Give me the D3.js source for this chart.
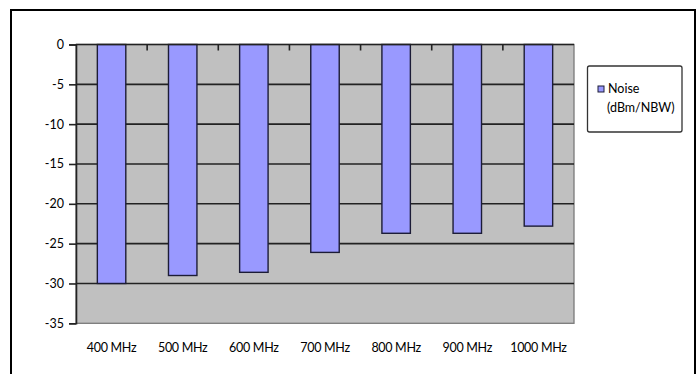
<!DOCTYPE html>
<html>
<head>
<meta charset="utf-8">
<script src="https://cdn.jsdelivr.net/npm/d3@7/dist/d3.min.js"></script>
<style>
  html, body { margin: 0; padding: 0; background: #fff; }
  svg { display: block; }
  text { font-family: Lato, "Liberation Sans", sans-serif; fill: #000; }
</style>
</head>
<body>
<svg id="chart" width="697" height="374"></svg>
<script>
// Noise level per frequency band
const categories = ["400 MHz", "500 MHz", "600 MHz", "700 MHz", "800 MHz", "900 MHz", "1000 MHz"];
const noise = [-30, -29, -28.6, -26.1, -23.7, -23.7, -22.8];
const yTicks = [0, -5, -10, -15, -20, -25, -30, -35];
const seriesName = ["Noise", "(dBm/NBW)"];

const svg = d3.select("#chart");
const plot = { left: 76, right: 574, top: 44.5, bottom: 323.3 };

// Outer frame (open at the bottom edge of the view)
svg.append("rect")
  .attr("x", 11).attr("y", 10)
  .attr("width", 684).attr("height", 400)
  .attr("fill", "#fff").attr("stroke", "#000").attr("stroke-width", 2);

const x = d3.scaleBand().domain(categories)
  .range([plot.left, plot.right]).paddingInner(0.6).paddingOuter(0.3);
const xCat = d3.scaleBand().domain(categories).range([plot.left, plot.right]).padding(0);
const y = d3.scaleLinear().domain([-35, 0]).range([plot.bottom, plot.top]);

// Plot background
svg.append("rect")
  .attr("x", plot.left).attr("y", plot.top)
  .attr("width", plot.right - plot.left).attr("height", plot.bottom - plot.top)
  .attr("fill", "#c0c0c0").attr("stroke", "#7a7a7a").attr("stroke-width", 1.3);

// Horizontal gridlines
svg.append("g").selectAll("line")
  .data(yTicks.filter(t => t !== 0 && t !== -35))
  .join("line")
  .attr("x1", plot.left).attr("x2", plot.right)
  .attr("y1", d => y(d)).attr("y2", d => y(d))
  .attr("stroke", "#222").attr("stroke-width", 1.6);

// Bars hanging from zero
svg.append("g").selectAll("rect")
  .data(categories.map((c, i) => ({ c, v: noise[i] })))
  .join("rect")
  .attr("x", d => x(d.c))
  .attr("y", y(0))
  .attr("width", x.bandwidth())
  .attr("height", d => y(d.v) - y(0))
  .attr("fill", "#9999ff").attr("stroke", "#1c1c36").attr("stroke-width", 1.4);

// Value axis
const yAxis = svg.append("g")
  .attr("transform", `translate(${plot.left},0)`)
  .call(d3.axisLeft(y).tickValues(yTicks).tickSize(7).tickPadding(5).tickFormat(d => String(d)));
yAxis.select(".domain").attr("stroke", "#222").attr("stroke-width", 1.6);
yAxis.selectAll(".tick line").attr("stroke", "#222").attr("stroke-width", 1.6);
yAxis.selectAll(".tick text").attr("font-size", 12.5).attr("font-family", "Lato").attr("fill", "#000");

// Category axis crossing at zero, ticks at category boundaries
const boundaries = categories.slice(1).map(c => xCat(c));
const catAxis = svg.append("g");
catAxis.append("line")
  .attr("x1", plot.left).attr("x2", plot.right)
  .attr("y1", y(0)).attr("y2", y(0))
  .attr("stroke", "#222").attr("stroke-width", 1.6);
catAxis.selectAll("line.tk")
  .data(boundaries)
  .join("line").attr("class", "tk")
  .attr("x1", d => d).attr("x2", d => d)
  .attr("y1", y(0)).attr("y2", y(0) + 6)
  .attr("stroke", "#222").attr("stroke-width", 1.6);

// Category labels below the plot
svg.append("g").selectAll("text")
  .data(categories)
  .join("text")
  .attr("x", d => xCat(d) + xCat.bandwidth() / 2)
  .attr("y", 352)
  .attr("text-anchor", "middle")
  .attr("font-size", 12.5)
  .attr("letter-spacing", -0.3)
  .text(d => d);

// Legend
const lg = svg.append("g");
lg.append("rect")
  .attr("x", 587.5).attr("y", 66).attr("width", 94.5).attr("height", 66)
  .attr("rx", 2).attr("fill", "#fff").attr("stroke", "#333").attr("stroke-width", 1.3);
lg.append("rect")
  .attr("x", 598).attr("y", 86).attr("width", 6).attr("height", 6)
  .attr("fill", "#9999ff").attr("stroke", "#1c1c36").attr("stroke-width", 1);
lg.append("text").attr("x", 608).attr("y", 93).attr("font-size", 12.5).text(seriesName[0]);
lg.append("text").attr("x", 607).attr("y", 112).attr("font-size", 12.5).text(seriesName[1]);
</script>
</body>
</html>
